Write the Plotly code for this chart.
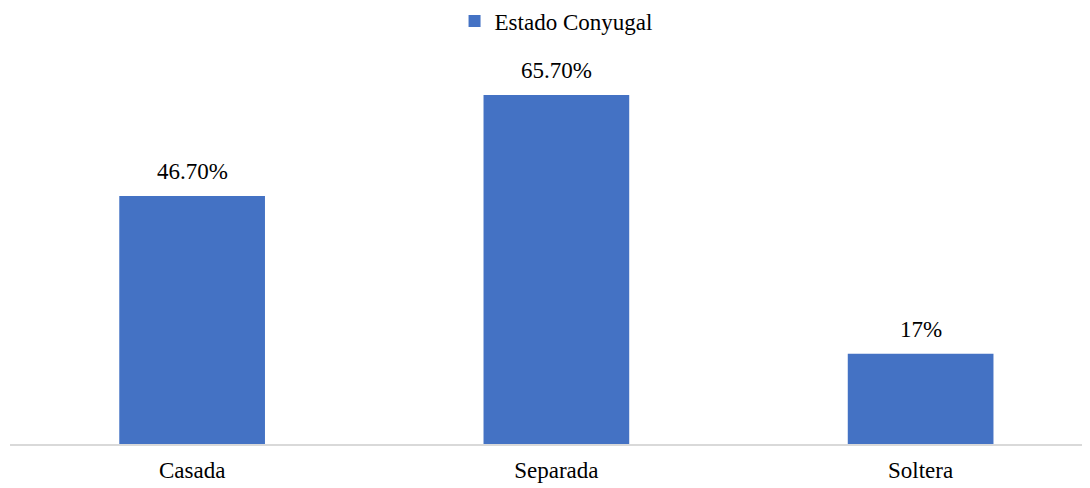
import plotly.graph_objects as go

categories = ["Casada", "Separada", "Soltera"]
values = [46.7, 65.7, 17]
labels = ["46.70%", "65.70%", "17%"]
series_name = "Estado Conyugal"

FONT = "Liberation Serif, Times New Roman, serif"

fig = go.Figure()
fig.add_trace(go.Bar(
    x=categories, y=values, name=series_name,
    marker=dict(color="#4472C4", line=dict(width=0)),
    width=0.4,
    showlegend=True,
))

for c, v, t in zip(categories, values, labels):
    fig.add_annotation(x=c, y=v, text=t, showarrow=False, yanchor="bottom",
                       yshift=10, font=dict(family=FONT, size=23, color="#000000"))

# page body has an 8px default margin; size the figure to fill the rest
fig.update_layout(
    width=1082, height=480,
    margin=dict(l=2, r=0, t=52, b=44, autoexpand=False),
    paper_bgcolor="white", plot_bgcolor="white",
    font=dict(family=FONT, size=23, color="#000000"),
    showlegend=True,
    legend=dict(orientation="h", x=0.5056, xanchor="center",
                yref="container", y=1 - 13 / 480, yanchor="middle",
                font=dict(family=FONT, size=23, color="#000000"),
                itemwidth=30),
    xaxis=dict(range=[-0.5, 2.465], showgrid=False, zeroline=False, automargin=False,
               showline=True, linecolor="#d9d9d9", linewidth=1.5,
               ticks="", ticklabelstandoff=5,
               tickfont=dict(family=FONT, size=23, color="#000000")),
    yaxis=dict(range=[0, 72.3], visible=False, showgrid=False, zeroline=False,
               automargin=False),
    bargap=0.6,
)

fig.write_html("out.html")
